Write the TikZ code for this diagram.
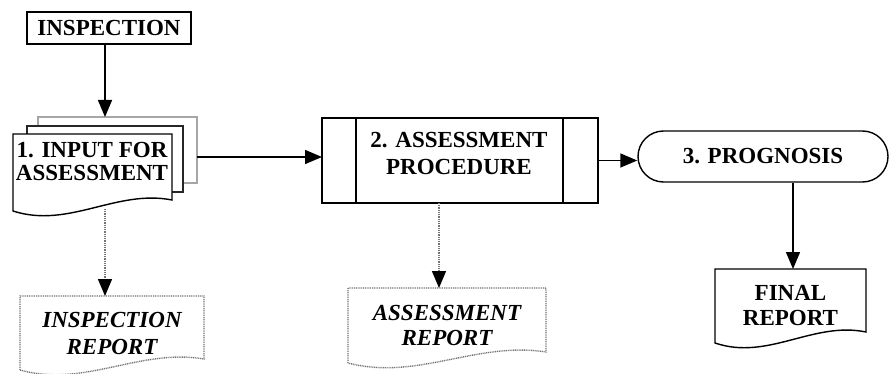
\documentclass[tikz,border=0pt]{standalone}
\usepackage{fontspec}
\setmainfont{Liberation Serif}
\usetikzlibrary{arrows.meta,calc,shapes.misc}
\tikzset{
  ln/.style={line width=1.4pt, draw=black},
  dotln/.style={line width=1.4pt, draw=black!55, dash pattern=on 1pt off 0.8pt},
  arr/.style={ln, -{Triangle[length=17pt,width=14pt]}},
  dotarr/.style={dotln, -{Triangle[length=17pt,width=14pt,color=black]}},
  txt/.style={font=\fontsize{23}{25}\selectfont\bfseries, align=center, inner sep=0pt},
  itxt/.style={font=\fontsize{23}{25}\selectfont\bfseries\itshape, align=center, inner sep=0pt},
  area/.style={inner sep=0pt, outer sep=0pt},
  page/.style={area, fill=white, line width=1.2pt},
}
\newcommand{\docoutline}[2]{\draw[#1] (#2.south west) -- (#2.north west) -- (#2.north east) -- ($(#2.south east)+(0,-11)$) .. controls ($(#2.south west)!0.65!(#2.south east)+(0,-22)$) and ($(#2.south west)!0.35!(#2.south east)+(0,18)$) .. (#2.south west) -- cycle;}
\begin{document}
\begin{tikzpicture}[x=1pt,y=-1pt]
\useasboundingbox (0,0) rectangle (890,374);
% inspection
\node[ln, draw, txt, minimum width=164pt, minimum height=32pt] (insp) at (109,28) {INSPECTION};
% input stack
\node[page, draw=gray!70, minimum width=159pt, minimum height=66pt] (inpb) at (117.5,150) {};
\node[page, draw=black!85, minimum width=156pt, minimum height=66pt] (inpm) at (105,159) {};
\node[area, minimum width=159pt, minimum height=77pt] (inp) at (92.5,172.5) {};
\docoutline{ln, fill=white}{inp}
\node[txt, font=\fontsize{23}{23}\selectfont\bfseries] (inpt) at (92,161.5) {1. INPUT FOR\\ASSESSMENT};
% procedure
\node[ln, draw, area, minimum width=276pt, minimum height=85pt] (proc) at (460,160.5) {};
\draw[ln] ([xshift=34pt]proc.north west) -- ([xshift=34pt]proc.south west);
\draw[ln] ([xshift=-35pt]proc.north east) -- ([xshift=-35pt]proc.south east);
\node[txt, font=\fontsize{23}{27}\selectfont\bfseries] (proct) at (459,153.5) {2. ASSESSMENT\\PROCEDURE};
% prognosis
\node[ln, draw, rounded rectangle, txt, minimum width=250pt, minimum height=51pt] (prog) at (763,156.5) {3. PROGNOSIS};
% final report
\node[area, txt, minimum width=151pt, minimum height=74pt] (fin) at (790.5,306) {FINAL\\REPORT};
\docoutline{ln}{fin}
% assessment report
\node[area, itxt, minimum width=198pt, minimum height=75pt] (assr) at (447,325.5) {ASSESSMENT\\REPORT};
\docoutline{dotln}{assr}
% inspection report
\node[area, itxt, font=\fontsize{23}{27}\selectfont\bfseries\itshape, minimum width=184pt, minimum height=74pt] (insr) at (112,333) {INSPECTION\\REPORT};
\docoutline{dotln}{insr}
% connectors
\coordinate (a1) at (105,117);
\draw[arr] (insp.south -| a1) -- (a1);
\coordinate (a2) at (197,157);
\draw[arr] (a2) -- (a2 -| proc.west);
\draw[arr] (proc.east) -- (proc.east -| prog.west);
\coordinate (a4) at (793,269);
\draw[arr] (prog.south -| a4) -- (a4);
\coordinate (a5) at (105,209);
\draw[dotarr] (a5) -- (a5 |- insr.north);
\coordinate (a6) at (439,203);
\draw[dotarr] (a6) -- (a6 |- assr.north);
\end{tikzpicture}
\end{document}
